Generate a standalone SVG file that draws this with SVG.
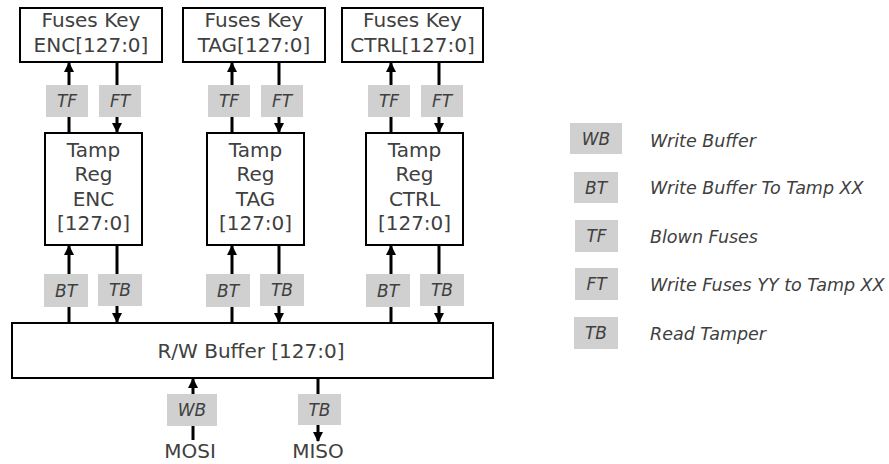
<svg xmlns="http://www.w3.org/2000/svg" width="889" height="464" viewBox="0 0 889 464">
<defs>
<style>
.box{fill:#fff;stroke:#000;stroke-width:2}
.t{font-family:"DejaVu Sans",Verdana,sans-serif;font-size:20px;fill:#404040;text-anchor:middle}
.lb{fill:#d0d0d0}
.lt{font-family:"DejaVu Sans",Verdana,sans-serif;font-size:17px;font-style:italic;fill:#404040;text-anchor:middle}
.leg{font-family:"DejaVu Sans",Verdana,sans-serif;font-size:17.5px;font-style:italic;fill:#404040}
.w{stroke:#000;stroke-width:3;fill:none}
</style>
<marker id="ah" markerUnits="userSpaceOnUse" markerWidth="10" markerHeight="10" refX="9" refY="5" orient="auto">
<path d="M0,0 L10,5 L0,10 z" fill="#000"/>
</marker>
</defs>
<g id="connectors">
<line class="w" x1="69" y1="133" x2="69" y2="63" marker-end="url(#ah)"/>
<line class="w" x1="117" y1="62" x2="117" y2="132" marker-end="url(#ah)"/>
<line class="w" x1="232" y1="133" x2="232" y2="63" marker-end="url(#ah)"/>
<line class="w" x1="279" y1="62" x2="279" y2="132" marker-end="url(#ah)"/>
<line class="w" x1="391" y1="133" x2="391" y2="63" marker-end="url(#ah)"/>
<line class="w" x1="439" y1="62" x2="439" y2="132" marker-end="url(#ah)"/>
<line class="w" x1="69" y1="323" x2="69" y2="246" marker-end="url(#ah)"/>
<line class="w" x1="117" y1="245" x2="117" y2="322" marker-end="url(#ah)"/>
<line class="w" x1="232" y1="323" x2="232" y2="246" marker-end="url(#ah)"/>
<line class="w" x1="279" y1="245" x2="279" y2="322" marker-end="url(#ah)"/>
<line class="w" x1="391" y1="323" x2="391" y2="246" marker-end="url(#ah)"/>
<line class="w" x1="439" y1="245" x2="439" y2="322" marker-end="url(#ah)"/>
<line class="w" x1="193" y1="440" x2="193" y2="379" marker-end="url(#ah)"/>
<line class="w" x1="318" y1="378" x2="318" y2="441" marker-end="url(#ah)"/>
</g>
<g id="fuses-enc"><rect class="box" x="20" y="8" width="142" height="54"/><text class="t" x="91" y="27">Fuses Key</text><text class="t" x="91" y="52">ENC[127:0]</text></g>
<g id="fuses-tag"><rect class="box" x="183" y="8" width="142" height="54"/><text class="t" x="254" y="27">Fuses Key</text><text class="t" x="254" y="52">TAG[127:0]</text></g>
<g id="fuses-ctrl"><rect class="box" x="342" y="8" width="141" height="54"/><text class="t" x="412.5" y="27">Fuses Key</text><text class="t" x="412.5" y="52">CTRL[127:0]</text></g>
<g id="tamp-enc"><rect class="box" x="45" y="133" width="97" height="112"/><text class="t" x="93.5" y="157">Tamp</text><text class="t" x="93.5" y="181">Reg</text><text class="t" x="93.5" y="206">ENC</text><text class="t" x="93.5" y="230">[127:0]</text></g>
<g id="tamp-tag"><rect class="box" x="207" y="133" width="97" height="112"/><text class="t" x="255.5" y="157">Tamp</text><text class="t" x="255.5" y="181">Reg</text><text class="t" x="255.5" y="206">TAG</text><text class="t" x="255.5" y="230">[127:0]</text></g>
<g id="tamp-ctrl"><rect class="box" x="366" y="133" width="97" height="112"/><text class="t" x="414.5" y="157">Tamp</text><text class="t" x="414.5" y="181">Reg</text><text class="t" x="414.5" y="206">CTRL</text><text class="t" x="414.5" y="230">[127:0]</text></g>
<g id="buffer"><rect class="box" x="12" y="323" width="481" height="55"/><text class="t" x="251" y="358">R/W Buffer [127:0]</text></g>
<g id="labels">
<rect class="lb" x="46" y="85" width="42" height="32"/><text class="lt" x="67" y="107">TF</text>
<rect class="lb" x="99" y="85" width="42" height="32"/><text class="lt" x="120" y="107">FT</text>
<rect class="lb" x="208" y="85" width="42" height="32"/><text class="lt" x="229" y="107">TF</text>
<rect class="lb" x="261" y="85" width="42" height="32"/><text class="lt" x="282" y="107">FT</text>
<rect class="lb" x="368" y="85" width="42" height="32"/><text class="lt" x="389" y="107">TF</text>
<rect class="lb" x="421" y="85" width="42" height="32"/><text class="lt" x="442" y="107">FT</text>
<rect class="lb" x="44" y="274" width="44" height="33"/><text class="lt" x="66" y="297">BT</text>
<rect class="lb" x="98" y="274" width="44" height="32"/><text class="lt" x="120" y="296">TB</text>
<rect class="lb" x="206" y="274" width="44" height="33"/><text class="lt" x="228" y="297">BT</text>
<rect class="lb" x="260" y="274" width="44" height="32"/><text class="lt" x="282" y="296">TB</text>
<rect class="lb" x="366" y="274" width="44" height="33"/><text class="lt" x="388" y="297">BT</text>
<rect class="lb" x="420" y="274" width="44" height="32"/><text class="lt" x="442" y="296">TB</text>
<rect class="lb" x="167" y="394" width="50" height="32"/><text class="lt" x="192" y="416">WB</text>
<rect class="lb" x="298" y="394" width="43" height="31"/><text class="lt" x="319.5" y="416">TB</text>
</g>
<g id="io">
<text class="t" x="190" y="458">MOSI</text>
<text class="t" x="318" y="458">MISO</text>
</g>
<g id="legend">
<rect class="lb" x="570" y="123" width="52" height="31"/><text class="lt" x="596" y="145">WB</text><text class="leg" x="650" y="147">Write Buffer</text>
<rect class="lb" x="574" y="172" width="44" height="31"/><text class="lt" x="596" y="194">BT</text><text class="leg" x="650" y="194">Write Buffer To Tamp XX</text>
<rect class="lb" x="575" y="220" width="43" height="32"/><text class="lt" x="596.5" y="242">TF</text><text class="leg" x="650" y="243">Blown Fuses</text>
<rect class="lb" x="575" y="268" width="43" height="32"/><text class="lt" x="596.5" y="290">FT</text><text class="leg" x="650" y="291">Write Fuses YY to Tamp XX</text>
<rect class="lb" x="574" y="317" width="44" height="32"/><text class="lt" x="596" y="339">TB</text><text class="leg" x="650" y="340">Read Tamper</text>
</g>
</svg>
